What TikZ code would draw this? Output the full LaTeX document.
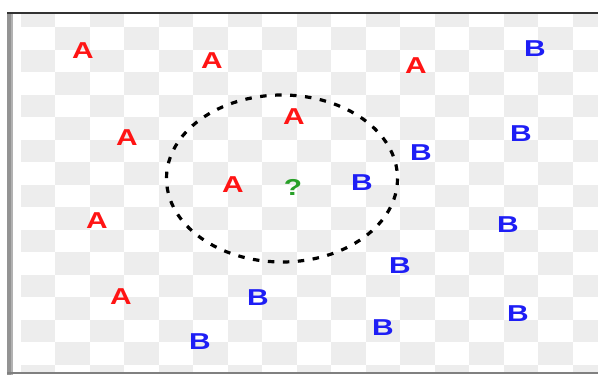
\documentclass[tikz,border=0pt]{standalone}
\usepackage{fontspec}
\setmainfont{Liberation Sans}
\usetikzlibrary{positioning}
\definecolor{checker}{RGB}{237,237,237}
\definecolor{classA}{RGB}{255,20,20}
\definecolor{classB}{RGB}{30,30,245}
\definecolor{unknown}{RGB}{40,160,40}
\tikzset{
    label font/.style={inner sep=0pt, xscale=1.3, font=\fontsize{23}{23}\selectfont\bfseries},
    pointA/.style={label font, text=classA},
    pointB/.style={label font, text=classB},
    query/.style={label font, text=unknown},
    neighbourhood/.style={draw=black, line width=3.2pt, dash pattern=on 6.5pt off 8.5pt}
}

\begin{document}
\begin{tikzpicture}[x=1pt, y=-1pt]
  \useasboundingbox (0,0) rectangle (598,375);

  % checkerboard background
  \begin{scope}
    \clip (18,14) rectangle (598,372);
    \foreach \c in {0,...,16}{
      \foreach \r in {0,...,16}{
        \pgfmathtruncatemacro\p{\c+\r}
        \ifodd\p\else
          \fill[checker] (20.5+34.5*\c,4.5+22.5*\r) rectangle +(34.5,22.5);
        \fi
      }
    }
  \end{scope}

  % frame
  \fill[gray!85] (7,12) rectangle (13,375);
  \fill[gray!60] (11,14) rectangle (13,375);
  \draw[black!80, line width=1.6pt] (7,13) -- (598,13);
  \draw[gray, line width=1.5pt] (7,373) -- (598,373);

  % class A
  \node(a1)[pointA] at (83,51) {A};
  \node(a2)[pointA] at (212,61) {A};
  \node(a3)[pointA] at (416,66) {A};
  \node(a4)[pointA] at (294,117) {A};
  \node(a5)[pointA] at (127,138) {A};
  \node(a6)[pointA] at (233,185) {A};
  \node(a7)[pointA] at (97,221) {A};
  \node(a8)[pointA] at (121,297) {A};

  % class B
  \node(b1)[pointB] at (535,49) {B};
  \node(b2)[pointB] at (521,134) {B};
  \node(b3)[pointB] at (421,153) {B};
  \node(b4)[pointB] at (362,183) {B};
  \node(b5)[pointB] at (508,225) {B};
  \node(b6)[pointB] at (400,266) {B};
  \node(b7)[pointB] at (258,298) {B};
  \node(b8)[pointB] at (383,328) {B};
  \node(b9)[pointB] at (518,314) {B};
  \node(b10)[pointB] at (200,342) {B};

  % point to classify and its neighbourhood
  \node(q)[query] at (293,187) {?};
  \coordinate (centre) at (282,178.5);
  \draw[neighbourhood] (centre) ellipse [x radius=115.5, y radius=83.5];

\end{tikzpicture}
\end{document}
